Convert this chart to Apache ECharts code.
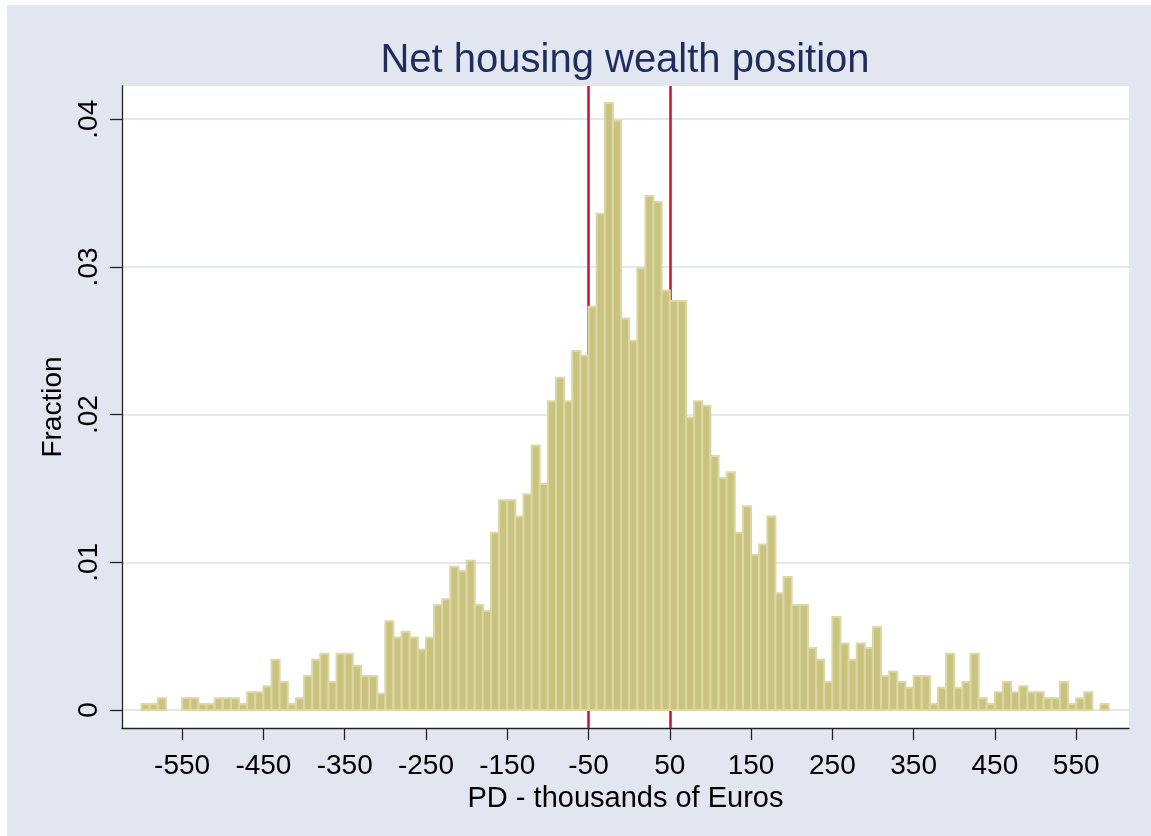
<!DOCTYPE html>
<html>
<head>
<meta charset="utf-8">
<title>Net housing wealth position</title>
<script src="https://cdn.jsdelivr.net/npm/echarts@6/dist/echarts.min.js"></script>
<style>
  html, body { margin: 0; padding: 0; background: #fff; }
  #chart { position: absolute; left: 7px; top: 5px; width: 1144px; height: 831px; }
</style>
</head>
<body>
<div id="chart"></div>
<script>
// histogram bins: lower edge of first bin and bin width (thousands of Euros)
const binStart = -600
const binWidth = 10
const fractions = [
  0.0004, 0.0004, 0.0008, 0, 0, 0.0008, 0.0008, 0.0004, 0.0004, 0.0008,
  0.0008, 0.0008, 0.0004, 0.0012, 0.0012, 0.0016, 0.0034, 0.0019, 0.0004, 0.0008,
  0.0023, 0.0034, 0.0038, 0.0019, 0.0038, 0.0038, 0.0030, 0.0023, 0.0023, 0.0011,
  0.0060, 0.0049, 0.0053, 0.0049, 0.0041, 0.0049, 0.0071, 0.0075, 0.0097, 0.0094,
  0.0101, 0.0071, 0.0067, 0.0120, 0.0142, 0.0142, 0.0131, 0.0146, 0.0179, 0.0153,
  0.0209, 0.0225, 0.0209, 0.0243, 0.0240, 0.0273, 0.0336, 0.0411, 0.0399, 0.0265,
  0.0250, 0.0299, 0.0348, 0.0344, 0.0284, 0.0277, 0.0277, 0.0198, 0.0209, 0.0206,
  0.0172, 0.0157, 0.0161, 0.0120, 0.0138, 0.0105, 0.0112, 0.0131, 0.0079, 0.0090,
  0.0071, 0.0071, 0.0042, 0.0034, 0.0019, 0.0063, 0.0045, 0.0034, 0.0045, 0.0042,
  0.0056, 0.0023, 0.0026, 0.0019, 0.0015, 0.0023, 0.0023, 0.0004, 0.0015, 0.0038,
  0.0015, 0.0019, 0.0038, 0.0008, 0.0004, 0.0012, 0.0019, 0.0012, 0.0016, 0.0012,
  0.0012, 0.0008, 0.0008, 0.0019, 0.0004, 0.0008, 0.0012, 0, 0.0004
]
// vertical reference lines
const refLines = [-50, 50]
// tick values and labels
const xTicks = [-550, -450, -350, -250, -150, -50, 50, 150, 250, 350, 450, 550]
const yTicks = [0, 0.01, 0.02, 0.03, 0.04]
const yTickLabels = ['0', '.01', '.02', '.03', '.04']

const font = 'Liberation Sans, Arial, Helvetica, sans-serif'
const bins = fractions.map((f, i) => [binStart + i * binWidth, binStart + (i + 1) * binWidth, f])

const chart = echarts.init(document.getElementById('chart'))
chart.setOption({
  backgroundColor: '#E1E6F0',
  animation: false,
  textStyle: { fontFamily: font },
  title: {
    text: 'Net housing wealth position',
    left: 618,
    textAlign: 'center',
    top: 36,
    padding: 0,
    textStyle: {
      fontFamily: font,
      fontWeight: 'normal',
      fontSize: 40,
      color: '#1F2D5A'
    }
  },
  grid: {
    left: 115,
    right: 22,
    top: 81,
    bottom: 108,
    show: true,
    backgroundColor: '#fff',
    borderWidth: 0
  },
  xAxis: {
    type: 'value',
    min: -624,
    max: 615,
    name: 'PD - thousands of Euros',
    nameLocation: 'middle',
    nameGap: 47,
    nameTextStyle: { fontFamily: font, fontSize: 29, color: '#000' },
    axisLine: { show: true, onZero: false, lineStyle: { color: '#222', width: 1.3 } },
    axisTick: { show: true, length: 12, customValues: xTicks, lineStyle: { color: '#222', width: 1.3 } },
    axisLabel: {
      customValues: xTicks,
      margin: 24,
      fontFamily: font,
      fontSize: 28,
      color: '#000'
    },
    splitLine: { show: false }
  },
  yAxis: {
    type: 'value',
    min: -0.00122,
    max: 0.04225,
    name: 'Fraction',
    nameLocation: 'middle',
    nameGap: 49,
    nameRotate: 90,
    nameTextStyle: { fontFamily: font, fontSize: 28, color: '#000' },
    axisLine: { show: true, onZero: false, lineStyle: { color: '#222', width: 1.3 } },
    axisTick: { show: true, length: 12, customValues: yTicks, lineStyle: { color: '#222', width: 1.3 } },
    axisLabel: {
      customValues: yTicks,
      rotate: 90,
      margin: 19,
      fontFamily: font,
      fontSize: 28,
      color: '#000',
      formatter: v => yTickLabels[yTicks.findIndex(t => Math.abs(t - v) < 1e-9)] || ''
    },
    splitLine: { show: true, lineStyle: { color: '#E2E7F0', width: 2 } }
  },
  series: [
    {
      // reference lines, drawn behind the bars
      type: 'line',
      data: [],
      z: 1,
      markLine: {
        silent: true,
        z: 1,
        symbol: 'none',
        label: { show: false },
        lineStyle: { color: '#C8102E', width: 2.5, type: 'solid' },
        data: refLines.map(v => ({ xAxis: v }))
      }
    },
    {
      type: 'custom',
      z: 3,
      data: bins,
      renderItem(params, api) {
        if (!api.value(2)) return { type: 'group', children: [] }
        const p0 = api.coord([api.value(0), 0])
        const p1 = api.coord([api.value(1), api.value(2)])
        return {
          type: 'rect',
          shape: { x: p0[0], y: p1[1], width: p1[0] - p0[0], height: p0[1] - p1[1] },
          style: { fill: '#C9C37F', stroke: '#DCD8A3', lineWidth: 2 }
        }
      }
    }
  ]
})
</script>
</body>
</html>
